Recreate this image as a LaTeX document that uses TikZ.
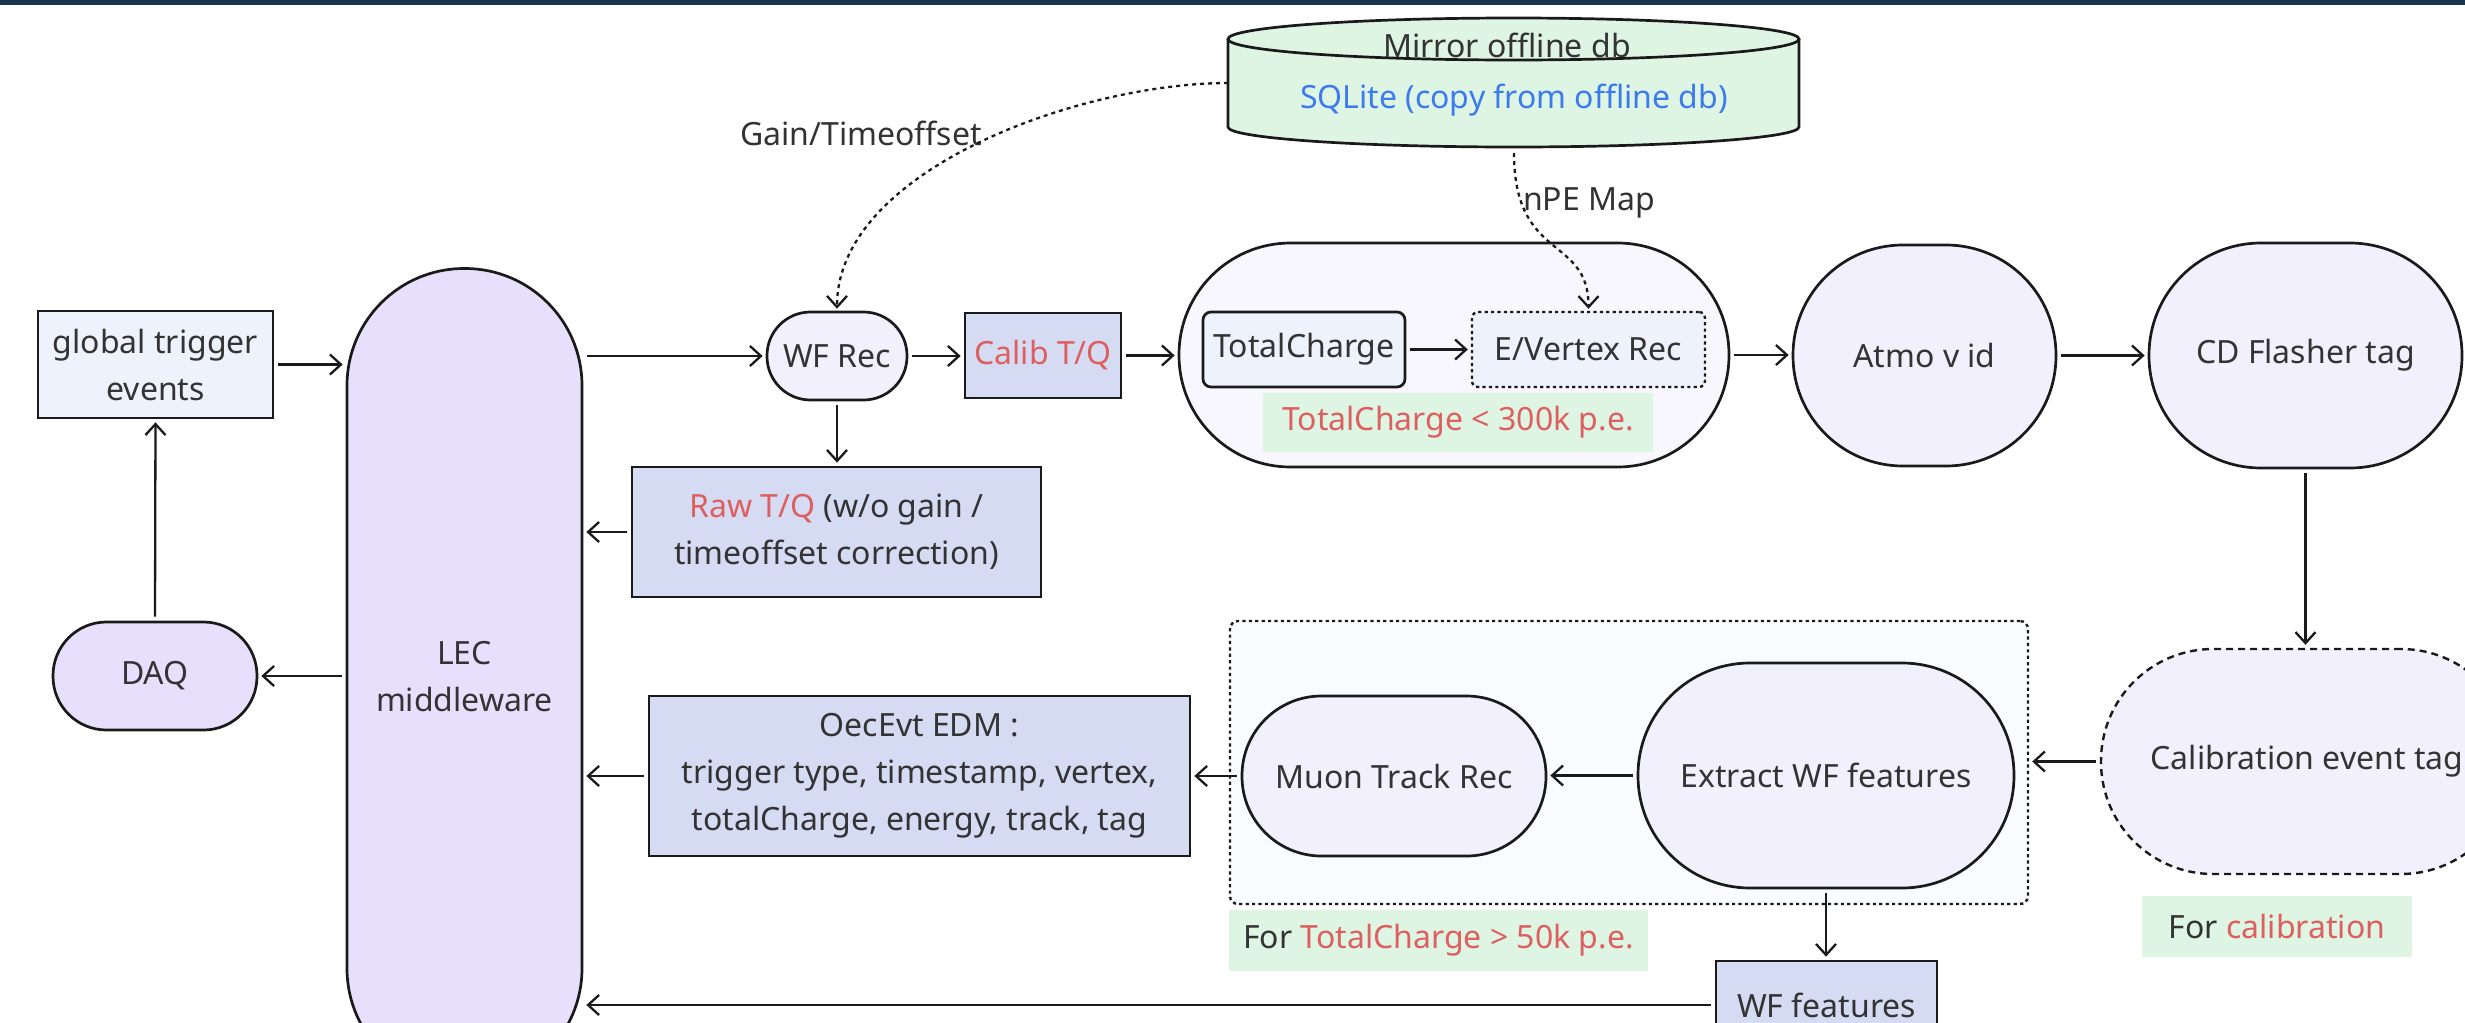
\documentclass[tikz,border=0pt]{standalone}
\usepackage{fontspec}
\setmainfont{Noto Sans}
\usetikzlibrary{arrows.meta}
\newdimen\pu \pu=0.5pt
\definecolor{txt}{HTML}{333333}
\definecolor{edge}{HTML}{1A1A1A}
\definecolor{lav}{HTML}{E7E0FC}
\definecolor{pale}{HTML}{F3F0FD}
\definecolor{lblue}{HTML}{EEF2FC}
\definecolor{peri}{HTML}{D5DBF3}
\definecolor{grpa}{HTML}{F8F7FE}
\definecolor{grpb}{HTML}{FAFBFE}
\definecolor{lgreen}{HTML}{DFF5E4}
\definecolor{hired}{HTML}{DE5F5F}
\definecolor{hiblue}{HTML}{3B7BEE}
\definecolor{navy}{HTML}{18344F}
\tikzset{
  box/.style={draw=edge, line width=1.35pt, inner sep=0pt, align=center, text=txt},
  pill/.style={box, fill=pale},
  rectbox/.style={box, fill=peri},
  tag/.style={fill=lgreen, inner sep=0pt, text=txt},
  arr/.style={draw=edge, line width=1.15pt, -{Straight Barb[length=5.5pt,width=10pt]}, shorten <=2pt, shorten >=1.5pt},
  dotarr/.style={draw=edge, line width=1.15pt, dash pattern=on 2pt off 2pt, -{Straight Barb[length=5.5pt,width=10pt]}, shorten >=1pt},
  plain/.style={text=txt, inner sep=0pt}
}
\begin{document}
\begin{tikzpicture}[x=0.5pt, y=0.5pt, font=\fontsize{16pt}{23.5pt}\selectfont]
\useasboundingbox (0,0) rectangle (2465,-1023);
\clip (0,0) rectangle (2465,-1023);
\fill[white] (0,0) rectangle (2465,-1023);
\fill[navy] (0,0) rectangle (2465,-5);

% cylinder (database)
\fill[lgreen] (1228,-39) -- (1228,-127) arc[start angle=180, end angle=360, x radius=285.5, y radius=20] -- (1799,-39) arc[start angle=0, end angle=180, x radius=285.5, y radius=21] -- cycle;
\draw[edge, line width=1.35pt] (1228,-39) -- (1228,-127) arc[start angle=180, end angle=360, x radius=285.5, y radius=20] -- (1799,-39);
\draw[edge, line width=1.35pt] (1513.5,-39) ellipse[x radius=285.5, y radius=21];
\node[inner sep=0pt, minimum width=571\pu, minimum height=129\pu] (cyl) at (1513.5,-82.5) {};
\node[plain] (mirror) at (1507,-45) {Mirror offline db};
\node[plain, text=hiblue] (sql) at (1514,-100) {SQLite (copy from offline db)};
\coordinate (cylL) at (1228,-83);
\coordinate (cylB) at (1514,-153);

% groups
\node[box, fill=grpa, rounded corners=111.5\pu, minimum width=550\pu, minimum height=224\pu] (grpa) at (1454,-355) {};
\node[box, fill=grpb, dash pattern=on 1.6pt off 1.6pt, line width=1.2pt, rounded corners=8\pu, minimum width=798\pu, minimum height=283\pu] (grpb) at (1629,-762.5) {};

% nodes
\node[box, fill=lblue, minimum width=235\pu, minimum height=107\pu] (glob) at (155.5,-364.5) {global trigger\\events};
\node[box, fill=lav, rounded corners=117\pu, minimum width=235\pu, minimum height=817\pu] (lec) at (464.5,-677) {LEC\\middleware};
\node[box, fill=lav, rounded corners=53.5\pu, minimum width=204\pu, minimum height=108\pu] (daq) at (155,-676) {DAQ};
\node[pill, rounded corners=43.5\pu, minimum width=140\pu, minimum height=88\pu] (wf) at (837,-356) {WF Rec};
\node[rectbox, text=hired, minimum width=156\pu, minimum height=85\pu] (calib) at (1043,-355.5) {Calib T/Q};
\node[box, fill=lblue, rounded corners=8\pu, minimum width=202\pu, minimum height=75\pu] (tc) at (1304,-349.5) {TotalCharge};
\node[box, fill=lblue, dash pattern=on 1.6pt off 1.6pt, line width=1.2pt, rounded corners=6\pu, minimum width=233\pu, minimum height=75\pu] (ev) at (1588.5,-349.5) {E/Vertex Rec};
\node[tag, text=hired, minimum width=390\pu, minimum height=59\pu] (lab300) at (1458,-422.5) {TotalCharge < 300k p.e.};
\node[pill, rounded corners=110\pu, minimum width=263\pu, minimum height=221\pu] (atmo) at (1924.5,-355.5) {Atmo v id};
\node[pill, rounded corners=112\pu, minimum width=313\pu, minimum height=225\pu] (cd) at (2305.5,-355.5) {CD Flasher tag};
\node[pill, dash pattern=on 3.5pt off 2.5pt, line width=1.2pt, rounded corners=112\pu, minimum width=412\pu, minimum height=225\pu] (cal) at (2307,-761.5) {Calibration event tag};
\node[tag, minimum width=270\pu, minimum height=61\pu] (labcal) at (2277,-926.5) {For \textcolor{hired}{calibration}};
\node[pill, rounded corners=112\pu, minimum width=376\pu, minimum height=225\pu] (ext) at (1826,-775.5) {Extract WF features};
\node[pill, rounded corners=79.5\pu, minimum width=304\pu, minimum height=160\pu] (muon) at (1394,-776) {Muon Track Rec};
\node[rectbox, minimum width=541\pu, minimum height=160\pu] (oec) at (919.5,-776) {OecEvt EDM :\\trigger type, timestamp, vertex,\\totalCharge, energy, track, tag};
\node[rectbox, minimum width=409\pu, minimum height=130\pu] (raw) at (836.5,-532) {\textcolor{hired}{Raw T/Q} (w/o gain /\\timeoffset correction)};
\node[tag, minimum width=419\pu, minimum height=61\pu] (lab50) at (1438.5,-940.5) {For \textcolor{hired}{TotalCharge > 50k p.e.}};
\node[rectbox, minimum width=221\pu, minimum height=88\pu] (wff) at (1826.5,-1005) {WF features};

% labels
\node[plain] (gain) at (861,-133) {Gain/Timeoffset};
\node[plain] (npe) at (1589,-203) {nPE Map};

% connectors
\draw[arr] (glob.east) -- (glob.east -| lec.west);
\draw[arr] (daq.north) -- (glob.south);
\draw[arr] (lec.west |- daq.east) -- (daq.east);
\draw[arr] (lec.east |- wf.west) -- (wf.west);
\draw[arr] (wf.east) -- (wf.east -| calib.west);
\draw[arr] (calib.east) -- (calib.east -| grpa.west);
\draw[arr] (tc.east) -- (ev.west);
\draw[arr] (grpa.east) -- (grpa.east -| atmo.west);
\draw[arr] (atmo.east) -- (atmo.east -| cd.west);
\draw[arr] (cd.south) -- (cd.south |- cal.north);
\draw[arr] (cal.west) -- (cal.west -| grpb.east);
\draw[arr] (ext.west) -- (ext.west -| muon.east);
\draw[arr] (muon.west) -- (muon.west -| oec.east);
\draw[arr] (raw.west) -- (raw.west -| lec.east);
\draw[arr] (oec.west) -- (oec.west -| lec.east);
\draw[arr] (ext.south) -- (ext.south |- wff.north);
\draw[arr] (wff.west) -- (wff.west -| lec.east);
\draw[arr] (wf.south) -- (wf.south |- raw.north);
\draw[dotarr] (cylL) .. controls (1080,-83) and (837,-170) .. (wf.north);
\draw[dotarr] (cylB) .. controls (1514,-262) and (1588.5,-235) .. (ev.north);
\end{tikzpicture}
\end{document}
